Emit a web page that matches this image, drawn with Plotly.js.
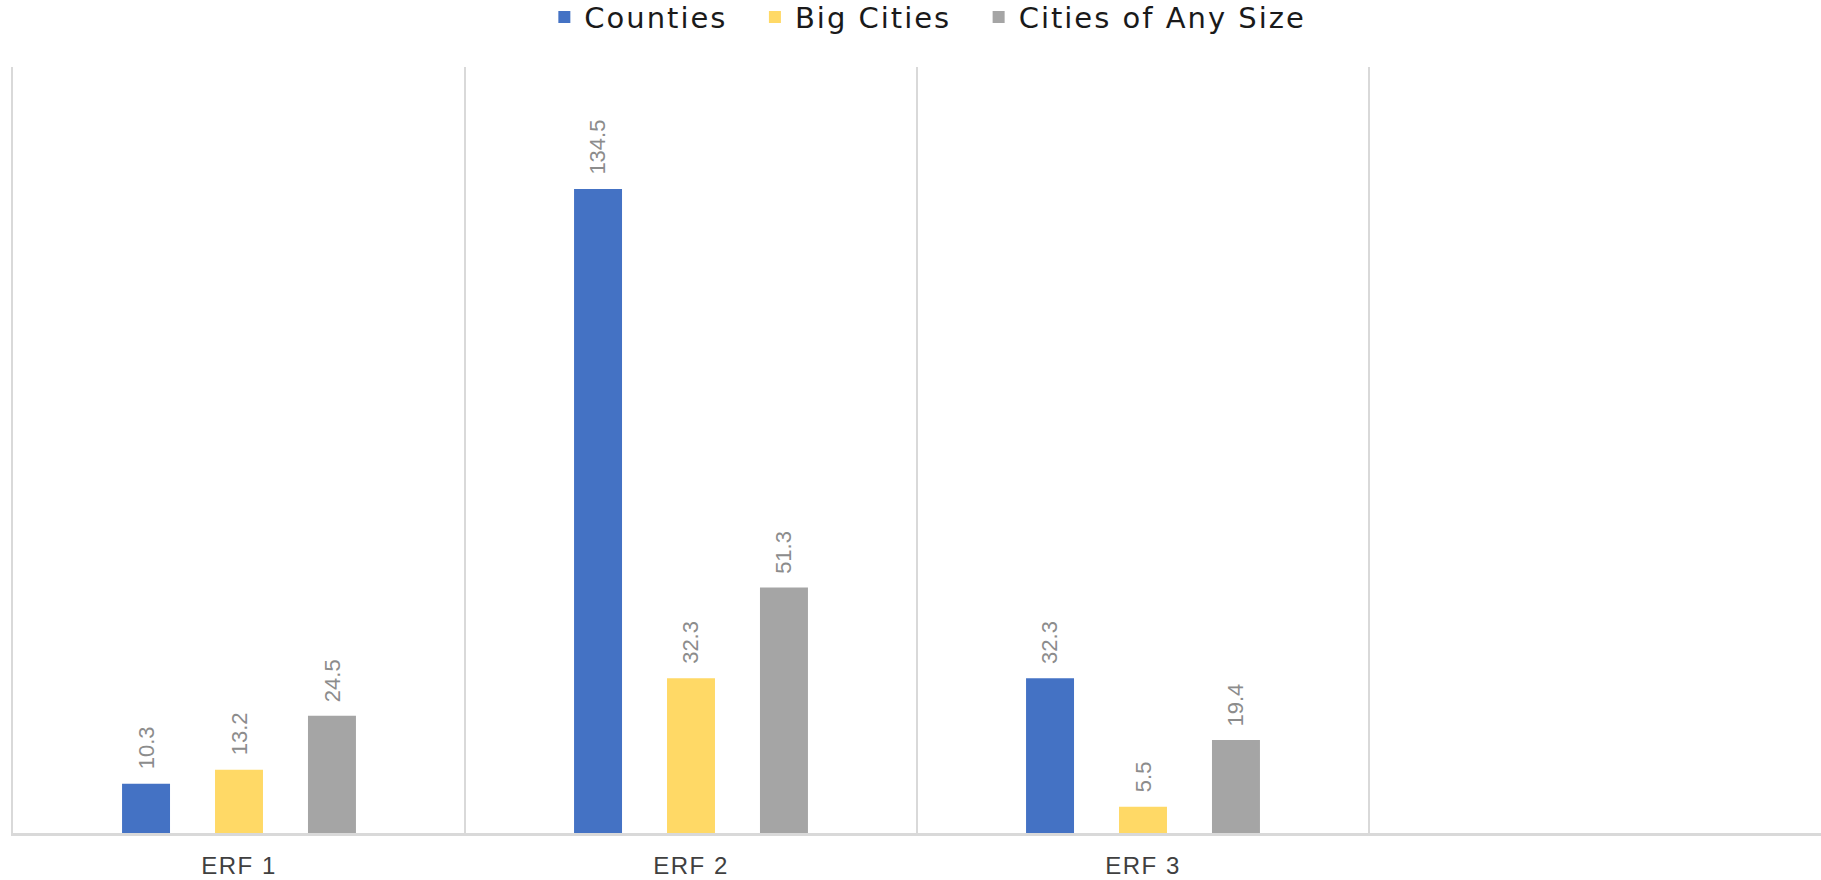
<!DOCTYPE html>
<html>
<head>
<meta charset="utf-8">
<script src="https://cdn.plot.ly/plotly-3.0.1.min.js"></script>
<style>
  html, body { margin: 0; padding: 0; background: #ffffff; }
  #chart { width: 1821px; height: 880px; }
  .legendtext { letter-spacing: 2px; }
  .xtick text { letter-spacing: 1.5px; }
</style>
</head>
<body>
<div id="chart"></div>
<script>
// ---- data ----
const categories = ["ERF 1", "ERF 2", "ERF 3", " "];
const seriesNames = ["Counties", "Big Cities", "Cities of Any Size"];
const counties = [10.3, 134.5, 32.3, null];
const bigCities = [13.2, 32.3, 5.5, null];
const citiesAnySize = [24.5, 51.3, 19.4, null];

// ---- styling ----
const colors = ["#4472C4", "#FFD966", "#A5A5A5"];
const W = 1821, H = 880;
const margin = {l: 13, r: 0, t: 67, b: 47, autoexpand: false};
const bargap = 0.383;
const bargroupgap = 0.484;

const seriesValues = [counties, bigCities, citiesAnySize];

const traces = seriesValues.map((vals, k) => ({
  type: "bar",
  // extra trailing spacing between legend entries (non-breaking spaces)
  name: seriesNames[k] + (k < seriesNames.length - 1 ? "\u00a0\u00a0" : ""),
  x: categories,
  y: vals,
  marker: {color: colors[k]},
  hoverinfo: "skip"
}));

// data labels as annotations above each bar
const plotW = W - margin.l - margin.r;
const catW = plotW / categories.length;
const slot = catW * (1 - bargap) / seriesValues.length;
const annotations = [];
seriesValues.forEach((vals, k) => {
  vals.forEach((v, i) => {
    if (v === null) return;
    annotations.push({
      x: categories[i], y: v, xref: "x", yref: "y",
      text: v.toFixed(1),
      textangle: -90,
      showarrow: false,
      xanchor: "center", yanchor: "bottom",
      xshift: (k - 1) * slot,
      yshift: 12,
      font: {family: "Liberation Sans, Arial, sans-serif", size: 22, color: "#8c8c8c"}
    });
  });
});

const layout = {
  width: W, height: H,
  margin: margin,
  paper_bgcolor: "#ffffff",
  plot_bgcolor: "#ffffff",
  barmode: "group",
  bargap: bargap,
  bargroupgap: bargroupgap,
  showlegend: true,
  legend: {
    orientation: "h",
    x: 0.506, xanchor: "center",
    y: 1.065, yanchor: "middle",
    itemwidth: 30,
    font: {family: "DejaVu Sans, sans-serif", size: 29, color: "#1a1a1a"},
    traceorder: "normal",
    itemclick: false
  },
  xaxis: {
    type: "category",
    range: [-0.5, 3.5],
    tickson: "boundaries",
    showgrid: true,
    gridcolor: "#d9d9d9",
    gridwidth: 2.5,
    showline: true,
    linecolor: "#d9d9d9",
    linewidth: 2.5,
    ticks: "",
    ticklabelstandoff: 10,
    tickfont: {family: "Liberation Sans, Arial, sans-serif", size: 24, color: "#404040"},
    fixedrange: true
  },
  yaxis: {
    range: [0, 160],
    showgrid: false,
    zeroline: false,
    showticklabels: false,
    ticks: "",
    showline: true,
    linecolor: "#d9d9d9",
    linewidth: 2.5,
    fixedrange: true
  },
  annotations: annotations
};

Plotly.newPlot("chart", traces, layout, {displayModeBar: false, staticPlot: true});
</script>
</body>
</html>
